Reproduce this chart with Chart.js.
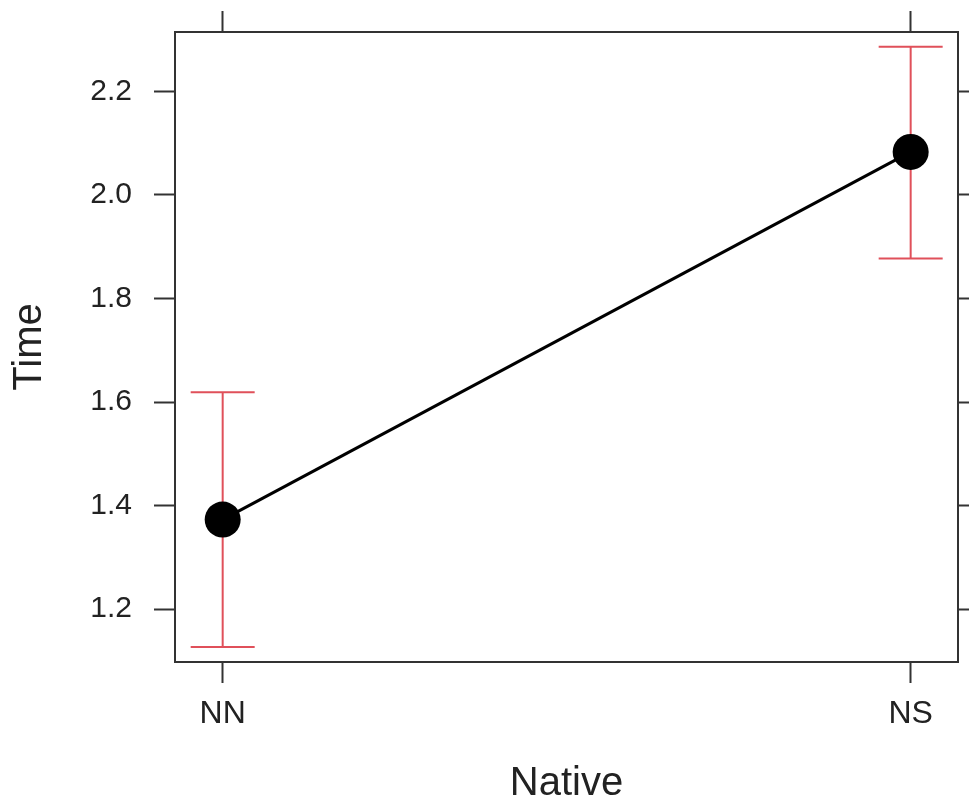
<!DOCTYPE html>
<html>
<head>
<meta charset="utf-8">
<script src="https://cdn.jsdelivr.net/npm/chart.js@4"></script>
<style>
  html, body { margin: 0; padding: 0; background: #fff; }
  #wrap { width: 969px; height: 802px; position: relative; }
</style>
</head>
<body>
<div id="wrap"><canvas id="c" width="969" height="802"></canvas></div>
<script>
// ---- data ----
const categories = ["NN", "NS"];
const timeMeans = [1.373, 2.083];
const timeLower = [1.127, 1.877];
const timeUpper = [1.619, 2.286];
const yTickValues = [1.2, 1.4, 1.6, 1.8, 2.0, 2.2];
const xTitle = "Native";
const yTitle = "Time";

const points = categories.map((c, i) => ({ x: i, y: timeMeans[i] }));

const FONT = "'Liberation Sans', Arial, Helvetica, sans-serif";
const AXIS = '#333333';
const TEXT = '#222222';

function drawErrorBars(chart) {
  const ctx = chart.ctx;
  const xs = chart.scales.x, ys = chart.scales.y;
  ctx.save();
  ctx.strokeStyle = '#E0505A';
  ctx.lineWidth = 2;
  categories.forEach((c, i) => {
    const px = xs.getPixelForValue(i);
    const pLo = ys.getPixelForValue(timeLower[i]);
    const pHi = ys.getPixelForValue(timeUpper[i]);
    const half = 32;
    ctx.beginPath();
    ctx.moveTo(px, pLo); ctx.lineTo(px, pHi);
    ctx.moveTo(px - half, pLo); ctx.lineTo(px + half, pLo);
    ctx.moveTo(px - half, pHi); ctx.lineTo(px + half, pHi);
    ctx.stroke();
  });
  ctx.restore();
}

const errorBarsUnder = {
  id: 'errorBarsUnder',
  beforeDatasetsDraw(chart) { drawErrorBars(chart); }
};

const xMin = -0.0693, xMax = 1.0688;
const yMin = 1.098, yMax = 2.3145;

function fixedTicksY(scale) { scale.ticks = yTickValues.map(v => ({ value: v })); }
function fixedTicksX(scale) { scale.ticks = categories.map((c, i) => ({ value: i })); }
function noPad(s) { s.paddingTop = 0; s.paddingBottom = 0; s.paddingLeft = 0; s.paddingRight = 0; }

new Chart(document.getElementById('c'), {
  type: 'line',
  data: {
    datasets: [{
      data: points,
      borderColor: '#000',
      borderWidth: 3,
      pointRadius: 18,
      pointHoverRadius: 18,
      pointBackgroundColor: '#000',
      pointBorderColor: '#000',
      pointBorderWidth: 0,
      tension: 0,
      fill: false
    }]
  },
  plugins: [errorBarsUnder],
  options: {
    responsive: false,
    animation: false,
    events: [],
    layout: { padding: 0, autoPadding: false },
    plugins: { legend: { display: false }, tooltip: { enabled: false }, title: { display: false } },
    scales: {
      x: {
        type: 'linear', position: 'bottom', min: xMin, max: xMax,
        afterBuildTicks: fixedTicksX,
        afterFit(s) { s.height = 140; noPad(s); },
        border: { display: true, color: AXIS, width: 2 },
        grid: { drawOnChartArea: false, drawTicks: true, tickLength: 21, tickColor: AXIS, tickWidth: 2 },
        ticks: {
          autoSkip: false, maxRotation: 0, padding: 12, color: TEXT,
          font: { family: FONT, size: 32 },
          callback: (v) => categories[Math.round(v)] ?? ''
        },
        title: { display: true, text: xTitle, color: TEXT, font: { family: FONT, size: 40, lineHeight: 1 }, padding: { top: 0, bottom: -2 } }
      },
      x2: {
        type: 'linear', position: 'top', min: xMin, max: xMax,
        afterBuildTicks: fixedTicksX,
        afterFit(s) { s.height = 32; noPad(s); },
        border: { display: true, color: AXIS, width: 2 },
        grid: { drawOnChartArea: false, drawTicks: true, tickLength: 21, tickColor: AXIS, tickWidth: 2 },
        ticks: { display: false }
      },
      y: {
        type: 'linear', position: 'left', min: yMin, max: yMax,
        afterBuildTicks: fixedTicksY,
        afterFit(s) { s.width = 175; noPad(s); },
        border: { display: true, color: AXIS, width: 2 },
        grid: { drawOnChartArea: false, drawTicks: true, tickLength: 21, tickColor: AXIS, tickWidth: 2 },
        ticks: {
          padding: 22, color: TEXT, font: { family: FONT, size: 30 },
          callback: (v) => Number(v).toFixed(1)
        },
        title: { display: true, text: yTitle, color: TEXT, font: { family: FONT, size: 40, lineHeight: 1 }, padding: { top: 10, bottom: 0 } }
      },
      y2: {
        type: 'linear', position: 'right', min: yMin, max: yMax,
        afterBuildTicks: fixedTicksY,
        afterFit(s) { s.width = 11; noPad(s); },
        border: { display: true, color: AXIS, width: 2 },
        grid: { drawOnChartArea: false, drawTicks: true, tickLength: 21, tickColor: AXIS, tickWidth: 2 },
        ticks: { display: false }
      }
    }
  }
});
</script>
</body>
</html>
